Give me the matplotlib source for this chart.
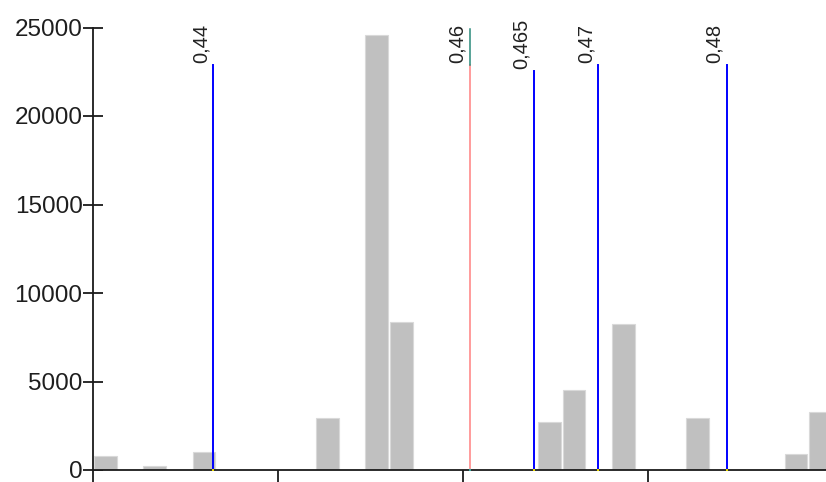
import numpy as np
import matplotlib.pyplot as plt

plt.rcParams['font.family'] = ['Liberation Sans', 'DejaVu Sans']

# histogram: 30 bins starting at bin_start
bin_start = 0.430627
bin_width = 0.001922
n_bins = 30
bar_bins = [0, 2, 4, 9, 11, 12, 18, 19, 21, 24, 28, 29]
bar_counts = [790, 230, 1035, 2955, 24580, 8380, 2730, 4520, 8250, 2955, 905, 3295]

# threshold markers
thresholds = [0.44, 0.46, 0.465, 0.47, 0.48]
threshold_labels = ['0,44', '0,46', '0,465', '0,47', '0,48']
threshold_tops = [22880, 22880, 22550, 22880, 22880]
highlight = 0.46
highlight_cap = 24900

fig = plt.figure(figsize=(8.26, 4.82), dpi=100)
ax = fig.add_axes([93 / 826, 12 / 482, 740 / 826, 442.5 / 482])

centers = bin_start + (np.array(bar_bins) + 0.5) * bin_width
ax.bar(centers, bar_counts, width=bin_width * 0.91, color='#c0c0c0',
       edgecolor='#d9d9d9', linewidth=0.8, zorder=2)

for x, lab, top in zip(thresholds, threshold_labels, threshold_tops):
    if x == highlight:
        ax.plot([x, x], [0, top], color='#ff8080', lw=1.1, zorder=3)
        ax.plot([x, x], [top, highlight_cap], color='#2a8a7a', lw=1.1, zorder=3)
        dot = '#3aa8a0'
    else:
        ax.plot([x, x], [0, top], color='#0000ff', lw=1.4, zorder=3)
        dot = '#e8d800'
    ax.plot([x], [0], marker='s', ms=1.6, color=dot, mew=0, zorder=4, clip_on=False)
    ax.annotate(lab, xy=(x, top), xytext=(-5, 1.5), textcoords='offset points',
                rotation=90, rotation_mode='anchor', ha='left', va='baseline',
                fontsize=14.5, color='#222222')

ax.set_xlim(bin_start, bin_start + n_bins * bin_width)
ax.set_ylim(0, 25000)
ax.set_xticks(np.linspace(bin_start, bin_start + n_bins * bin_width, 5))
ax.set_xticklabels([])
ax.set_yticks(np.arange(0, 25001, 5000))

for side in ['top', 'right']:
    ax.spines[side].set_visible(False)
for side in ['left', 'bottom']:
    ax.spines[side].set_linewidth(1.3)
    ax.spines[side].set_color('#1a1a1a')

ax.tick_params(axis='y', direction='inout', length=14, width=1.3, pad=0.5,
               labelsize=17.5, labelcolor='#1e1e1e', color='#1a1a1a')
ax.tick_params(axis='x', direction='out', length=10, width=1.3, color='#1a1a1a')

fig.savefig('out.png', dpi=100)
